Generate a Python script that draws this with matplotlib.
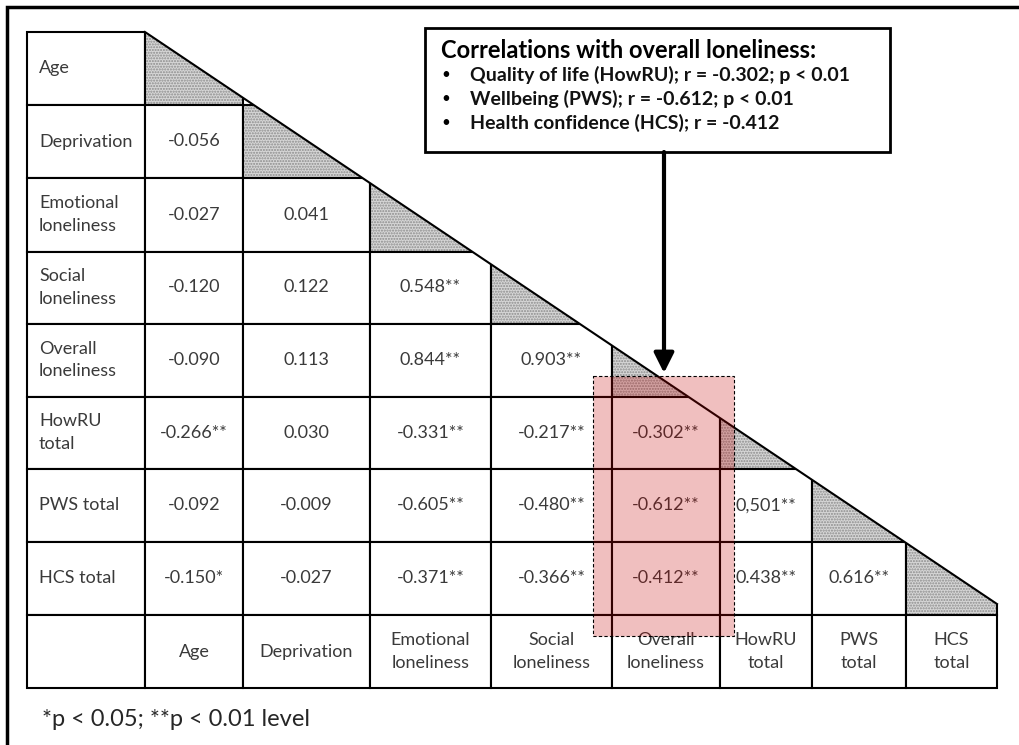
import matplotlib.pyplot as plt
from matplotlib.patches import Rectangle, Polygon

# row / column labels of the correlation matrix
row_labels = ['Age', 'Deprivation', 'Emotional\nloneliness', 'Social\nloneliness',
              'Overall\nloneliness', 'HowRU\ntotal', 'PWS total', 'HCS total']
col_labels = ['Age', 'Deprivation', 'Emotional\nloneliness', 'Social\nloneliness',
              'Overall\nloneliness', 'HowRU\ntotal', 'PWS\ntotal', 'HCS\ntotal']

# lower triangle, one list per row (as printed in the table)
cells = [
    [],
    ['-0.056'],
    ['-0.027', '0.041'],
    ['-0.120', '0.122', '0.548**'],
    ['-0.090', '0.113', '0.844**', '0.903**'],
    ['-0.266**', '0.030', '-0.331**', '-0.217**', '-0.302**'],
    ['-0.092', '-0.009', '-0.605**', '-0.480**', '-0.612**', '0,501**'],
    ['-0.150*', '-0.027', '-0.371**', '-0.366**', '-0.412**', '0.438**', '0.616**'],
]

box_title = 'Correlations with overall loneliness:'
box_lines = ['Quality of life (HowRU); r = -0.302; p < 0.01',
             'Wellbeing (PWS); r = -0.612; p < 0.01',
             'Health confidence (HCS); r = -0.412']
footnote = '*p < 0.05; **p < 0.01 level'

# table grid in pixels
xs = [27, 145, 243, 370, 491, 612, 720, 812, 906, 997]
ys = [32, 105, 178, 251.5, 323.5, 396.5, 469, 541.5, 615, 688]

plt.rcParams['font.family'] = ['Lato', 'DejaVu Sans']
txt = '#3a3a3a'
fs = 13

fig = plt.figure(figsize=(10.2, 7.45), dpi=100)
ax = fig.add_axes([0, 0, 1, 1])
ax.set_xlim(0, 1020)
ax.set_ylim(745, 0)
ax.axis('off')

lw = 1.5
n = len(row_labels)
for i in range(n):
    y0, y1 = ys[i], ys[i + 1]
    yc = (y0 + y1) / 2
    # label column
    ax.add_patch(Rectangle((xs[0], y0), xs[1] - xs[0], y1 - y0, fc='white', ec='black', lw=lw, zorder=1))
    ax.text(xs[0] + 12, yc, row_labels[i], ha='left', va='center', fontsize=fs, color=txt,
            linespacing=1.5, zorder=2)
    for j, val in enumerate(cells[i]):
        ax.add_patch(Rectangle((xs[j + 1], y0), xs[j + 2] - xs[j + 1], y1 - y0, fc='white', ec='black', lw=lw, zorder=1))
        ax.text((xs[j + 1] + xs[j + 2]) / 2, yc, val, ha='center', va='center', fontsize=fs, color=txt, zorder=2)
    # shaded diagonal cell
    j = i
    ax.add_patch(Rectangle((xs[j + 1], y0), xs[j + 2] - xs[j + 1], y1 - y0, fc='#d6d6d6', ec='#8c8c8c',
                           lw=0, hatch='......', zorder=1))
    ax.add_patch(Rectangle((xs[j + 1], y0), xs[j + 2] - xs[j + 1], y1 - y0, fill=False, ec='black', lw=lw, zorder=1))

# bottom label row
y0, y1 = ys[-2], ys[-1]
for k in range(n + 1):
    ax.add_patch(Rectangle((xs[k], y0), xs[k + 1] - xs[k], y1 - y0, fc='white', ec='black', lw=lw, zorder=1))
for k, lab in enumerate(col_labels):
    ax.text((xs[k + 1] + xs[k + 2]) / 2, (y0 + y1) / 2, lab, ha='center', va='center', fontsize=fs,
            color=txt, linespacing=1.5, zorder=2)

# blank out everything above the diagonal
p0 = (145, 32)
p1 = (997, 604)
ax.add_patch(Polygon([p0, p1, (1015, p1[1]), (1015, 20), (p0[0], 20)], closed=True, fc='white', ec='none', zorder=3))
ax.plot([p0[0], p1[0]], [p0[1], p1[1]], color='black', lw=lw, zorder=4)

# highlight on the overall loneliness column
ax.add_patch(Rectangle((593, 376), 141, 260, fc=(0.78, 0, 0, 0.25), ec='black', lw=0.8, ls=(0, (3, 2)), zorder=5))

# callout box
ax.add_patch(Rectangle((425, 28), 465, 124, fc='white', ec='black', lw=2, zorder=6))
ax.text(441, 51, box_title, ha='left', va='center', fontsize=17, fontweight='bold', color='black', zorder=7)
for k, line in enumerate(box_lines):
    yy = 75 + k * 24
    ax.text(446, yy, '\u2022', ha='center', va='center', fontsize=11, color='black', zorder=7)
    ax.text(470, yy, line, ha='left', va='center', fontsize=14, fontweight='bold', color='#111111', zorder=7)

ax.annotate('', xy=(664, 373), xytext=(664, 152),
            arrowprops=dict(arrowstyle='-|>', lw=3, color='black', mutation_scale=30,
                            shrinkA=0, shrinkB=0), zorder=7)

# footnote
ax.text(42, 719, footnote, ha='left', va='center', fontsize=17, color='#262626')

# outer frame (right and bottom run off the picture)
ax.plot([7, 7, 1020], [745, 7, 7], color='black', lw=2.5, solid_joinstyle='miter')

fig.savefig('out.png', dpi=100)
